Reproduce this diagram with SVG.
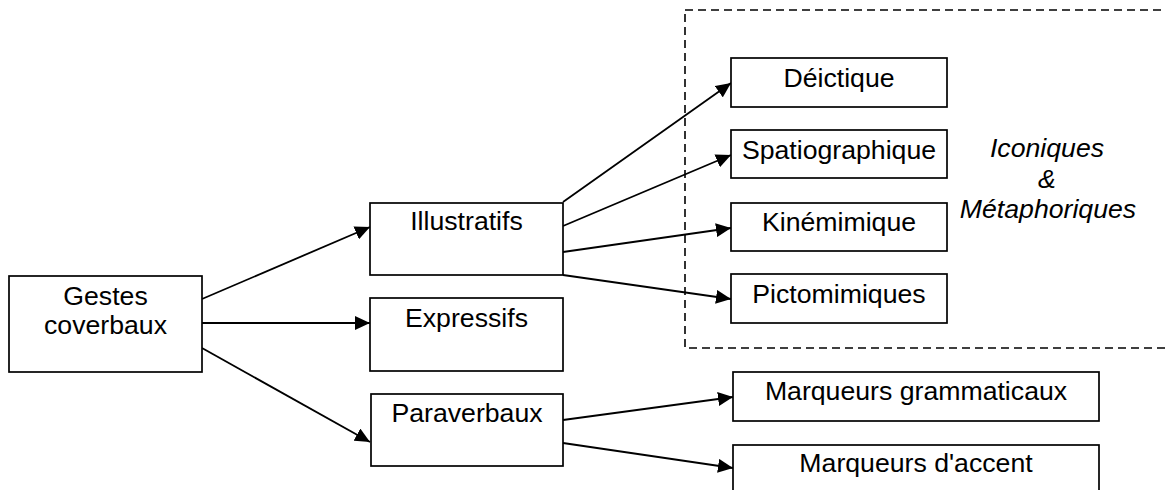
<svg xmlns="http://www.w3.org/2000/svg" width="1165" height="490" viewBox="0 0 1165 490">
<style>
.box{fill:#fff;stroke:#000;stroke-width:1.7}
.t{font-family:"Liberation Sans",Arial,sans-serif;font-size:26.67px;fill:#000;text-anchor:middle}
.it{font-style:italic}
.c{stroke:#000;stroke-width:1.8;fill:none;marker-end:url(#ah)}
</style>
<defs>
<marker id="ah" markerUnits="userSpaceOnUse" markerWidth="16" markerHeight="14" refX="15" refY="7" orient="auto">
<path d="M0,0 L15,7 L0,14 z" fill="#000"/>
</marker>
</defs>
<rect x="685" y="10" width="500" height="338" fill="none" stroke="#000" stroke-width="1.6" stroke-dasharray="8,5"/>
<g id="connectors">
<line class="c" x1="202" y1="299" x2="370" y2="227"/>
<line class="c" x1="202" y1="323" x2="370" y2="323"/>
<line class="c" x1="202" y1="348" x2="370" y2="442"/>
<line class="c" x1="563" y1="202" x2="731" y2="83"/>
<line class="c" x1="563" y1="226" x2="731" y2="155"/>
<line class="c" x1="563" y1="252" x2="731" y2="228"/>
<line class="c" x1="563" y1="275" x2="731" y2="299"/>
<line class="c" x1="563" y1="420" x2="733" y2="397"/>
<line class="c" x1="563" y1="443" x2="733" y2="468"/>
</g>
<g id="gestes"><rect class="box" x="9" y="276" width="193" height="96"/><text class="t" x="105.5" y="305">Gestes</text><text class="t" x="105.5" y="334">coverbaux</text></g>
<g id="illustratifs"><rect class="box" x="370" y="203" width="193" height="72"/><text class="t" x="466.5" y="230">Illustratifs</text></g>
<g id="expressifs"><rect class="box" x="370" y="298" width="193" height="73"/><text class="t" x="466.5" y="327">Expressifs</text></g>
<g id="paraverbaux"><rect class="box" x="371" y="394" width="192" height="72"/><text class="t" x="467" y="422">Paraverbaux</text></g>
<g id="deictique"><rect class="box" x="731" y="58" width="216" height="49"/><text class="t" x="839" y="87">Déictique</text></g>
<g id="spatiographique"><rect class="box" x="731" y="130" width="216" height="48"/><text class="t" x="839" y="159">Spatiographique</text></g>
<g id="kinemimique"><rect class="box" x="731" y="203" width="216" height="48"/><text class="t" x="839" y="231">Kinémimique</text></g>
<g id="pictomimiques"><rect class="box" x="731" y="274" width="216" height="49"/><text class="t" x="839" y="303">Pictomimiques</text></g>
<g id="iconiques"><text class="t it" x="1047" y="157">Iconiques</text><text class="t it" x="1047" y="188">&amp;</text><text class="t it" x="1048" y="218">Métaphoriques</text></g>
<g id="grammaticaux"><rect class="box" x="733" y="372" width="366" height="49"/><text class="t" x="916" y="400">Marqueurs grammaticaux</text></g>
<g id="accent"><rect class="box" x="733" y="445" width="366" height="60"/><text class="t" x="916" y="472">Marqueurs d'accent</text></g>
</svg>
